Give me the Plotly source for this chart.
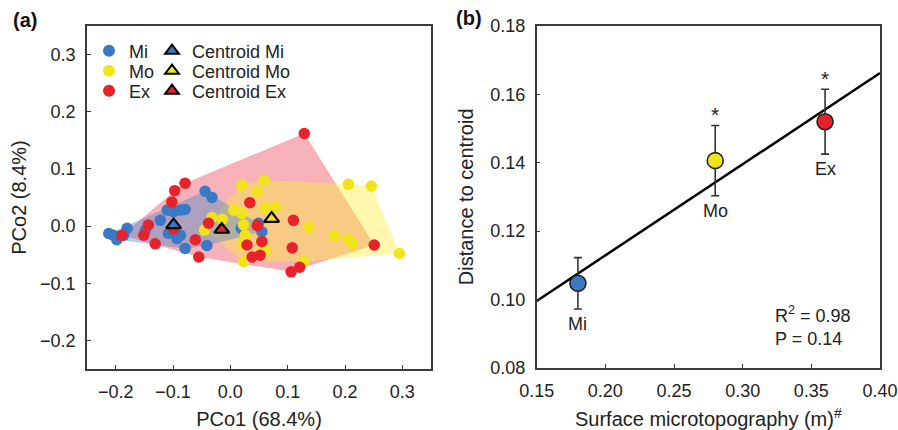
import numpy as np
import plotly.graph_objects as go

# ---------------- Panel (a) data: PCoA scores ----------------
mi_x = [-0.212, -0.204, -0.198, -0.180, -0.186, -0.148, -0.122, -0.110, -0.099, -0.087,
        -0.079, -0.108, -0.093, -0.087, -0.079, -0.044, -0.032, -0.041, 0.049, 0.055, 0.019]
mi_y = [-0.013, -0.016, -0.024, -0.004, -0.016, -0.007, 0.010, 0.028, 0.025, 0.028,
        0.029, -0.013, -0.022, -0.016, -0.039, 0.061, 0.050, -0.034, 0.005, -0.010, -0.004]

mo_x = [0.059, 0.020, 0.047, 0.006, 0.020, 0.061, 0.079, -0.032, -0.014, -0.045, 0.023,
        0.026, 0.023, 0.061, 0.023, 0.206, 0.246, 0.137, 0.182, 0.205, 0.213, 0.295, 0.128]
mo_y = [0.080, 0.072, 0.060, 0.028, 0.022, 0.032, 0.034, 0.015, 0.012, -0.007, 0.002,
        -0.016, -0.033, -0.042, -0.062, 0.073, 0.070, -0.002, -0.017, -0.023, -0.031, -0.048, -0.062]

ex_x = [-0.079, -0.097, -0.102, -0.143, -0.151, -0.189, -0.131, -0.061, -0.055, -0.038,
        0.034, 0.047, 0.055, 0.029, 0.038, 0.052, 0.110, 0.108, 0.129, 0.106, 0.121, 0.251, -0.099]
ex_y = [0.075, 0.062, 0.042, 0.002, -0.016, -0.016, -0.031, -0.024, -0.054, 0.005,
        0.041, 0.001, -0.027, -0.033, -0.054, -0.051, 0.010, -0.038, 0.162, -0.080, -0.072, -0.033, -0.005]

centroid_x = [-0.099, 0.072, -0.015]
centroid_y = [0.002, 0.013, -0.006]

groups = ["Mi", "Mo", "Ex"]
colors = ["#3b78c6", "#f2e41c", "#e8222a"]
hull_fill = ["rgba(70,135,205,0.40)", "rgba(252,236,60,0.42)", "rgba(236,70,85,0.42)"]

# ---------------- Panel (b) data ----------------
topo_x = [0.18, 0.28, 0.36]
dist_y = [0.1047, 0.1406, 0.152]
dist_err = [0.0075, 0.0103, 0.0095]
sig = ["", "*", "*"]
r2_text = "R<sup>2</sup> = 0.98"
p_text = "P = 0.14"

FONT = "Liberation Sans, Arial, sans-serif"
AX = "#3a3a3a"
TXT = "#222222"


def convex_hull(xs, ys):
    pts = sorted(set(zip(xs, ys)))

    def cross(o, a, b):
        return (a[0] - o[0]) * (b[1] - o[1]) - (a[1] - o[1]) * (b[0] - o[0])

    lower, upper = [], []
    for p in pts:
        while len(lower) >= 2 and cross(lower[-2], lower[-1], p) <= 0:
            lower.pop()
        lower.append(p)
    for p in reversed(pts):
        while len(upper) >= 2 and cross(upper[-2], upper[-1], p) <= 0:
            upper.pop()
        upper.append(p)
    hull = lower[:-1] + upper[:-1]
    hull.append(hull[0])
    return [p[0] for p in hull], [p[1] for p in hull]


fig = go.Figure()

xs_all = [mi_x, mo_x, ex_x]
ys_all = [mi_y, mo_y, ex_y]

# hulls (red first, then yellow, then blue)
for i in [2, 1, 0]:
    hx, hy = convex_hull(xs_all[i], ys_all[i])
    fig.add_trace(go.Scatter(x=hx, y=hy, mode="lines", fill="toself",
                             fillcolor=hull_fill[i], line=dict(width=0),
                             showlegend=False, hoverinfo="skip",
                             xaxis="x", yaxis="y"))

# points (each in its own legend so the rows can be placed like the reference)
for i in [0, 1, 2]:
    fig.add_trace(go.Scatter(x=xs_all[i], y=ys_all[i], mode="markers", name=groups[i],
                             marker=dict(size=11.5, color=colors[i], line=dict(width=0)),
                             legend="legend" if i == 0 else "legend%d" % (i + 1),
                             xaxis="x", yaxis="y"))

# centroids
for i in [0, 1, 2]:
    fig.add_trace(go.Scatter(x=[centroid_x[i]], y=[centroid_y[i]], mode="markers",
                             name="Centroid " + groups[i],
                             marker=dict(symbol="triangle-up", size=13, color=colors[i],
                                         line=dict(width=2.2, color="black")),
                             legend="legend%d" % (i + 4),
                             xaxis="x", yaxis="y"))

# ---------------- Panel (b) ----------------
slope, intercept = np.polyfit(topo_x, dist_y, 1)
line_x = [0.15, 0.40]
line_y = [slope * v + intercept for v in line_x]
fig.add_trace(go.Scatter(x=line_x, y=line_y, mode="lines",
                         line=dict(color="black", width=2.5),
                         showlegend=False, xaxis="x2", yaxis="y2"))

for i in range(3):
    fig.add_trace(go.Scatter(x=[topo_x[i]], y=[dist_y[i]], mode="markers",
                             error_y=dict(type="data", array=[dist_err[i]], color="#333333",
                                          thickness=1.6, width=4),
                             marker=dict(size=16, color=colors[i],
                                         line=dict(width=1.6, color="#222222")),
                             showlegend=False, xaxis="x2", yaxis="y2"))

# ---------------- layout geometry (pixels of the 898x430 page) ----------------
ML, MR, MT, MB = 87, 18, 26, 61
PW = 898 - ML - MR
PH = 430 - MT - MB


def px(xp):
    return (xp - ML) / PW


def py(yp):
    return (430 - MB - yp) / PH


annotations = []
for i in range(3):
    annotations.append(dict(x=topo_x[i], y=dist_y[i] - dist_err[i], xref="x2", yref="y2",
                            text=groups[i], showarrow=False, yanchor="top", yshift=-3,
                            font=dict(family=FONT, size=18, color=TXT)))
    if sig[i]:
        annotations.append(dict(x=topo_x[i], y=dist_y[i] + dist_err[i], xref="x2", yref="y2",
                                text=sig[i], showarrow=False, yanchor="bottom", yshift=-3,
                                font=dict(family=FONT, size=21, color=TXT)))

annotations.append(dict(x=0.688, y=0.122, xref="x2 domain", yref="y2 domain",
                        text=r2_text + "<br>" + p_text, showarrow=False, align="left",
                        xanchor="left", yanchor="middle",
                        font=dict(family=FONT, size=18, color=TXT)))
annotations.append(dict(x=px(11), y=py(20), xref="paper", yref="paper", text="<b>(a)</b>",
                        showarrow=False, xanchor="left", yanchor="middle",
                        font=dict(family=FONT, size=20, color="#111")))
annotations.append(dict(x=px(454), y=py(18), xref="paper", yref="paper", text="<b>(b)</b>",
                        showarrow=False, xanchor="left", yanchor="middle",
                        font=dict(family=FONT, size=20, color="#111")))

axis_common = dict(showline=True, linecolor=AX, linewidth=1.5, mirror=True,
                   ticks="inside", ticklen=4, tickwidth=1.2, tickcolor=AX,
                   showgrid=False, zeroline=False, automargin=False,
                   ticklabelstandoff=6,
                   tickfont=dict(family=FONT, size=18, color=TXT))
title_font = dict(family=FONT, size=20, color=TXT)

legend_common = dict(xanchor="left", yanchor="middle", bgcolor="rgba(0,0,0,0)",
                     borderwidth=0, font=dict(family=FONT, size=18, color=TXT),
                     itemsizing="constant")
row_y = [51, 71, 91]
legends = {}
for i in range(3):
    key = "legend" if i == 0 else "legend%d" % (i + 1)
    legends[key] = dict(x=px(89), y=py(row_y[i]), **legend_common)
    legends["legend%d" % (i + 4)] = dict(x=px(152), y=py(row_y[i]), **legend_common)

fig.update_layout(
    width=898, height=430,
    margin=dict(l=ML, r=MR, t=MT, b=MB, autoexpand=False),
    paper_bgcolor="white", plot_bgcolor="white",
    font=dict(family=FONT, color=TXT),
    xaxis=dict(domain=[0, px(431)], range=[-0.25, 0.35], tickvals=[-0.2, -0.1, 0.0, 0.1, 0.2, 0.3],
               tickformat=".1f", anchor="y",
               title=dict(text="PCo1 (68.4%)", font=title_font, standoff=12),
               **axis_common),
    yaxis=dict(domain=[0, 1], range=[-0.25, 0.35], tickvals=[-0.2, -0.1, 0.0, 0.1, 0.2, 0.3],
               tickformat=".1f", anchor="x",
               title=dict(text="PCo2 (8.4%)", font=title_font, standoff=8),
               **axis_common),
    xaxis2=dict(domain=[px(536.7), 1], range=[0.15, 0.40], dtick=0.05, tick0=0.15,
                tickformat=".2f", anchor="y2",
                title=dict(text="Surface microtopography (m)<sup>#</sup>", font=title_font, standoff=12),
                **axis_common),
    yaxis2=dict(domain=[py(367.7), 1], range=[0.08, 0.18], dtick=0.02, tick0=0.08,
                tickformat=".2f", anchor="x2",
                title=dict(text="Distance to centroid", font=title_font, standoff=11),
                **axis_common),
    annotations=annotations,
    showlegend=True,
    **legends,
)

fig.write_html("out.html",
               config={"displayModeBar": False},
               post_script="document.body.style.margin='0';document.body.style.overflow='hidden';")
